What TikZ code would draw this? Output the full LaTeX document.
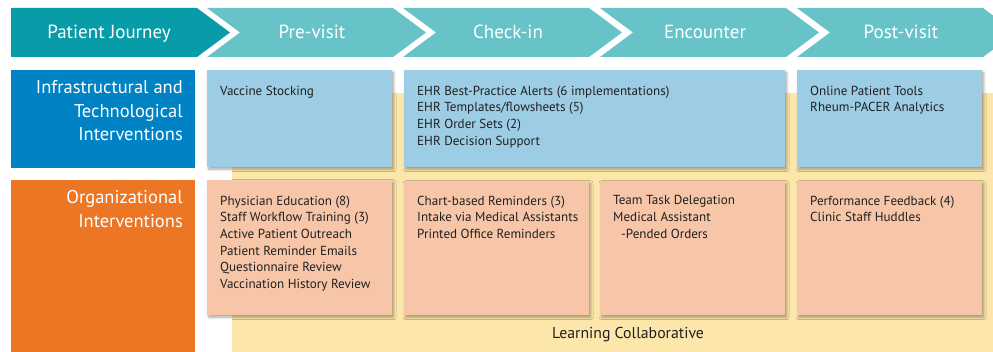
\documentclass[tikz,border=0pt]{standalone}
\usepackage{fontspec}
\setmainfont{PT Sans}
\usetikzlibrary{shadows.blur}

\definecolor{journeyteal}{RGB}{8,155,168}
\definecolor{stageteal}{RGB}{104,195,201}
\definecolor{infrablue}{RGB}{0,131,196}
\definecolor{infrabox}{RGB}{156,205,229}
\definecolor{orglabel}{RGB}{236,118,36}
\definecolor{orgbox}{RGB}{247,198,168}
\definecolor{collab}{RGB}{253,230,170}
\definecolor{boxtext}{RGB}{32,32,32}

\tikzset{
  stagetext/.style={text=white, font=\fontsize{19}{23}\selectfont, inner sep=0pt, anchor=base},
  rowlabel/.style={text=white, font=\fontsize{18.5}{23.3}\selectfont, align=right, inner sep=0pt, anchor=north east},
  cardbox/.style={anchor=north west, inner sep=0pt, draw=none,
    blur shadow={shadow xshift=1.5pt, shadow yshift=-2pt, shadow blur radius=2.5pt, shadow opacity=35}},
  infracard/.style={cardbox, fill=infrabox},
  orgcard/.style={cardbox, fill=orgbox},
  cardtext/.style={text=boxtext, font=\fontsize{13.1}{16.7}\selectfont, align=left, inner sep=0pt, anchor=north west},
}

\begin{document}
\begin{tikzpicture}[x=1pt, y=-1pt]
  \useasboundingbox (0,0) rectangle (993,352);
  \clip (0,0) rectangle (993,352);

  % stage header: one solid chevron, four notched chevrons
  \fill[journeyteal] (11,8) -- (197,8) -- (230,32.5) -- (197,57) -- (11,57) -- cycle;
  \foreach \x in {207,403,600,797}{
    \fill[stageteal] (\x,8) -- (\x+186,8) -- (\x+219,32.5) -- (\x+186,57) -- (\x,57) -- (\x+33,32.5) -- cycle;
  }
  \node[stagetext] (hJourney) at (109,39) {Patient Journey};
  \node[stagetext] (hPre)     at (312,39) {Pre-visit};
  \node[stagetext] (hCheck)   at (508,39) {Check-in};
  \node[stagetext] (hEnc)     at (705,39) {Encounter};
  \node[stagetext] (hPost)    at (901,39) {Post-visit};

  % learning collaborative backdrop
  \fill[collab] (232,93) rectangle (993,352);
  \node[text=boxtext, font=\fontsize{15.8}{18}\selectfont, inner sep=0pt, anchor=base] (collabText) at (628,339) {Learning Collaborative};

  % row labels
  \node[fill=infrablue, anchor=north west, minimum width=184pt, minimum height=98pt, inner sep=0pt] (infraLabel) at (11,70) {};
  \node[rowlabel] (infraLabelText) at (183,80.5) {Infrastructural and\\Technological\\Interventions};
  \node[fill=orglabel, anchor=north west, minimum width=184pt, minimum height=175pt, inner sep=0pt] (orgLabel) at (11,180) {};
  \node[rowlabel] (orgLabelText) at (183,190.5) {Organizational\\Interventions};

  % infrastructural / technological cards
  \node[infracard, minimum width=185pt, minimum height=97pt] (infraPre) at (207,70) {};
  \node[infracard, minimum width=381pt, minimum height=97pt] (infraMid) at (404,70) {};
  \node[infracard, minimum width=185pt, minimum height=97pt] (infraPost) at (797,70) {};

  \node[cardtext] (infraPreText) at ([xshift=13pt,yshift=-15.5pt]infraPre.north west) {Vaccine Stocking};
  \node[cardtext] (infraMidText) at ([xshift=13pt,yshift=-15.5pt]infraMid.north west)
    {EHR Best-Practice Alerts (6 implementations)\\EHR Templates/flowsheets (5)\\EHR Order Sets (2)\\EHR Decision Support};
  \node[cardtext] (infraPostText) at ([xshift=13pt,yshift=-15.5pt]infraPost.north west)
    {Online Patient Tools\\Rheum-PACER Analytics};

  % organizational cards
  \node[orgcard, minimum width=185pt, minimum height=135pt] (orgPre) at (207,180) {};
  \node[orgcard, minimum width=185pt, minimum height=134pt] (orgCheck) at (404,181) {};
  \node[orgcard, minimum width=185pt, minimum height=134pt] (orgEnc) at (600,181) {};
  \node[orgcard, minimum width=185pt, minimum height=134pt] (orgPost) at (797,181) {};

  \node[cardtext] (orgPreText) at ([xshift=13pt,yshift=-15.5pt]orgPre.north west)
    {Physician Education (8)\\Staff Workflow Training (3)\\Active Patient Outreach\\Patient Reminder Emails\\Questionnaire Review\\Vaccination History Review};
  \node[cardtext] (orgCheckText) at ([xshift=13pt,yshift=-14.5pt]orgCheck.north west)
    {Chart-based Reminders (3)\\Intake via Medical Assistants\\Printed Office Reminders};
  \node[cardtext] (orgEncText) at ([xshift=13pt,yshift=-14.5pt]orgEnc.north west)
    {Team Task Delegation\\Medical Assistant\\\hspace*{8pt}-Pended Orders};
  \node[cardtext] (orgPostText) at ([xshift=13pt,yshift=-14.5pt]orgPost.north west)
    {Performance Feedback (4)\\Clinic Staff Huddles};
\end{tikzpicture}
\end{document}
